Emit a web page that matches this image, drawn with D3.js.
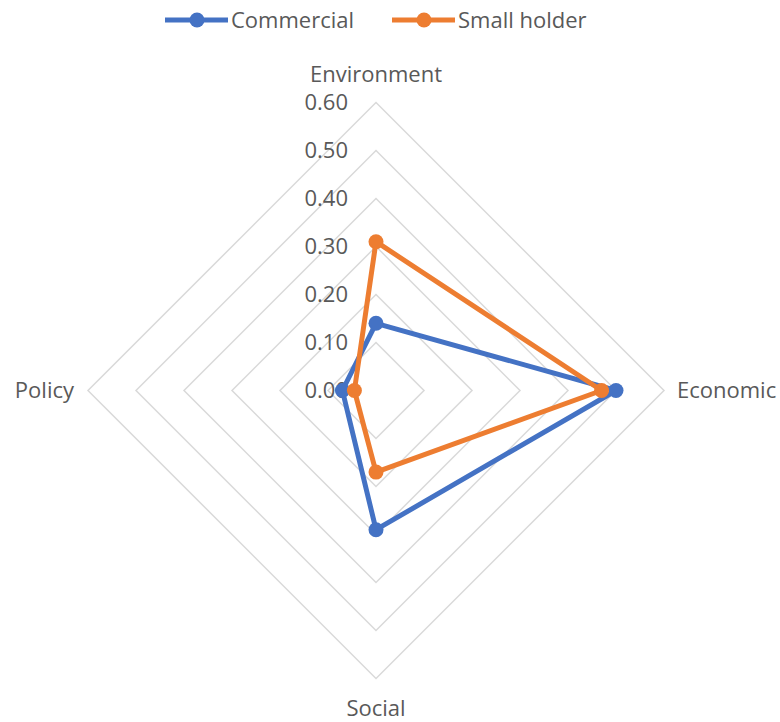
<!DOCTYPE html>
<html>
<head>
<meta charset="utf-8">
<script src="https://cdn.jsdelivr.net/npm/d3@7"></script>
<style>
  html, body { margin: 0; padding: 0; background: #fff; }
  svg { display: block; }
  text { font-family: "Open Sans", "Noto Sans", sans-serif; fill: #595959; }
</style>
</head>
<body>
<svg id="chart" width="780" height="722"></svg>
<script>
// Dimensions of the radar (axis order: clockwise from the top)
const axes = ["Environment", "Economic", "Social", "Policy"];
const seriesNames = ["Commercial", "Small holder"];
const commercial = [0.14, 0.50, 0.29, 0.07];
const smallHolder = [0.31, 0.47, 0.17, 0.045];
const tickValues = [0, 0.1, 0.2, 0.3, 0.4, 0.5, 0.6];
const tickLabels = ["0.00", "0.10", "0.20", "0.30", "0.40", "0.50", "0.60"];
const colors = ["#4472C4", "#ED7D31"];

const fontSize = 22;
const svg = d3.select("#chart");
const cx = 376, cy = 390.5;
const r = d3.scaleLinear().domain([0, 0.6]).range([0, 288]);
const angle = d3.scaleBand().domain(axes).range([0, 2 * Math.PI]).paddingInner(0).paddingOuter(0);
const ang = a => angle(a);

const g = svg.append("g").attr("transform", `translate(${cx},${cy})`);
const pt = (a, v) => [Math.sin(ang(a)) * r(v), -Math.cos(ang(a)) * r(v)];

// Concentric diamond gridlines
const lineClosed = d3.line().curve(d3.curveLinearClosed);
g.append("g").selectAll("path")
  .data(tickValues.slice(1))
  .join("path")
  .attr("d", v => lineClosed(axes.map(a => pt(a, v))))
  .attr("fill", "none")
  .attr("stroke", "#d9d9d9")
  .attr("stroke-width", 1.5);

// Radial tick labels along the top spoke
g.append("g").selectAll("text")
  .data(tickValues)
  .join("text")
  .attr("x", -28)
  .attr("y", v => -r(v))
  .attr("dy", "0.35em")
  .attr("text-anchor", "end")
  .attr("font-size", fontSize)
  .text((v, i) => tickLabels[i]);

// Series polygons with markers
[commercial, smallHolder].forEach((vals, si) => {
  const pts = axes.map((a, i) => pt(a, vals[i]));
  const s = g.append("g");
  s.append("path")
    .attr("d", lineClosed(pts))
    .attr("fill", "none")
    .attr("stroke", colors[si])
    .attr("stroke-width", 5)
    .attr("stroke-linejoin", "round");
  s.selectAll("circle")
    .data(pts)
    .join("circle")
    .attr("cx", d => d[0])
    .attr("cy", d => d[1])
    .attr("r", 7.5)
    .attr("fill", colors[si]);
});

// Category labels
const labelPos = {
  "Environment": { x: 0, y: -316, anchor: "middle" },
  "Economic": { x: 301, y: 0, anchor: "start" },
  "Social": { x: 0, y: 318, anchor: "middle" },
  "Policy": { x: -302, y: 0, anchor: "end" }
};
g.append("g").selectAll("text")
  .data(axes)
  .join("text")
  .attr("x", a => labelPos[a].x)
  .attr("y", a => labelPos[a].y)
  .attr("dy", "0.35em")
  .attr("text-anchor", a => labelPos[a].anchor)
  .attr("font-size", fontSize)
  .text(a => a);

// Legend
const legendX = [165, 392];
const legend = svg.append("g").selectAll("g")
  .data(seriesNames)
  .join("g")
  .attr("transform", (d, i) => `translate(${legendX[i]},20)`);
legend.append("line")
  .attr("x1", 0).attr("x2", 63)
  .attr("stroke", (d, i) => colors[i])
  .attr("stroke-width", 5);
legend.append("circle")
  .attr("cx", 32).attr("r", 7.5)
  .attr("fill", (d, i) => colors[i]);
legend.append("text")
  .attr("x", 66)
  .attr("dy", "0.35em")
  .attr("font-size", fontSize)
  .text(d => d);
</script>
</body>
</html>
